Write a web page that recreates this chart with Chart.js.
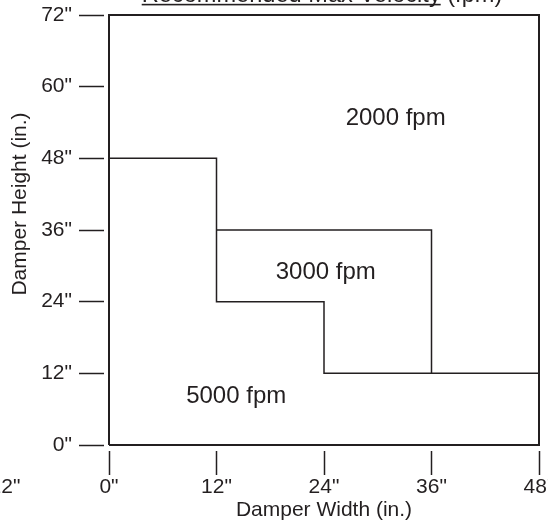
<!DOCTYPE html>
<html><head><meta charset="utf-8">
<script src="https://cdn.jsdelivr.net/npm/chart.js@4"></script>
<style>html,body{margin:0;padding:0;background:#fff}#wrap{width:548px;height:523px}</style>
</head><body><div id="wrap"><canvas id="c"></canvas></div>
<script>
const titleMain = 'Recommended Max Velocity';
const titleUnit = ' (fpm)';
const xAxisTitle = 'Damper Width (in.)';
const yAxisTitle = 'Damper Height (in.)';
const xTickValues = [-12, 0, 12, 24, 36, 48];
const yTickValues = [0, 12, 24, 36, 48, 60, 72];
const boxX = [0, 48, 48, 0, 0];
const boxY = [0, 0, 72, 72, 0];
const line5000X = [0, 12, 12, 24, 24, 48];
const line5000Y = [48, 48, 24, 24, 12, 12];
const line3000X = [12, 36, 36];
const line3000Y = [36, 36, 12];
const regionLabels = ['2000 fpm', '3000 fpm', '5000 fpm'];
const regionX = [32, 24.2, 14.2];
const regionY = [55, 29.3, 8.4];

const pts = (xs, ys) => xs.map((x, i) => ({x: x, y: ys[i]}));
const INK = '#231f20';
const FONT = "'Liberation Sans', Arial, sans-serif";

const overlay = {
  id: 'overlay',
  afterDraw(chart) {
    const ctx = chart.ctx, xs = chart.scales.x, ys = chart.scales.y;
    ctx.save();
    ctx.fillStyle = INK;
    const rs = 24;
    ctx.font = rs + 'px ' + FONT;
    ctx.textAlign = 'center';
    ctx.textBaseline = 'alphabetic';
    regionLabels.forEach((t, i) => {
      ctx.fillText(t, xs.getPixelForValue(regionX[i]), ys.getPixelForValue(regionY[i]) + rs * 0.36);
    });
    ctx.save();
    ctx.translate(20, 204);
    ctx.rotate(-Math.PI / 2);
    ctx.font = '21px ' + FONT;
    ctx.textBaseline = 'middle';
    ctx.fillText(yAxisTitle, 0, 0);
    ctx.restore();
    ctx.font = '23.6px ' + FONT;
    const w1 = ctx.measureText(titleMain).width;
    const w2 = ctx.measureText(titleUnit).width;
    const x0 = 322 - (w1 + w2) / 2;
    ctx.textAlign = 'left';
    ctx.textBaseline = 'alphabetic';
    ctx.fillText(titleMain, x0, 2);
    ctx.fillText(titleUnit, x0 + w1, 2);
    ctx.fillRect(x0, 3.8, w1, 1.6);
    ctx.restore();
  }
};

const lineDs = (data, w) => ({
  data: data, showLine: true, borderColor: INK, borderWidth: w,
  pointRadius: 0, clip: false, tension: 0, fill: false
});

new Chart(document.getElementById('c'), {
  type: 'scatter',
  data: {
    datasets: [
      lineDs(pts(boxX, boxY), 2),
      lineDs(pts(line5000X, line5000Y), 1.5),
      lineDs(pts(line3000X, line3000Y), 1.5)
    ]
  },
  options: {
    responsive: true,
    maintainAspectRatio: false,
    animation: false,
    events: [],
    layout: {padding: {top: 15, right: 9, left: 0, bottom: 0}},
    plugins: {legend: {display: false}, tooltip: {enabled: false}, title: {display: false}},
    scales: {
      x: {
        type: 'linear', position: 'bottom', min: 0, max: 48,
        afterBuildTicks: s => { s.ticks = xTickValues.map(v => ({value: v})); },
        afterFit: s => { s.height = 78; s.paddingLeft = 0; s.paddingRight = 0; },
        ticks: {
          autoSkip: false, maxRotation: 0, minRotation: 0, padding: 0, color: INK,
          font: {family: FONT, size: 21},
          callback: v => v + '"'
        },
        grid: {
          drawOnChartArea: false, tickLength: 30, tickWidth: 1.5,
          tickColor: c => (c.tick && c.tick.value < 0) ? 'rgba(0,0,0,0)' : INK,
          tickBorderDash: [24, 6], tickBorderDashOffset: 24
        },
        border: {display: false},
        title: {display: true, text: xAxisTitle, color: INK, font: {family: FONT, size: 21}, padding: {top: 0, bottom: 0}}
      },
      y: {
        type: 'linear', position: 'left', min: 0, max: 72,
        afterBuildTicks: s => { s.ticks = yTickValues.map(v => ({value: v})); },
        afterFit: s => { s.width = 109; s.paddingTop = 0; s.paddingBottom = 0; },
        ticks: {
          autoSkip: false, padding: 7, color: INK,
          font: {family: FONT, size: 21},
          callback: v => v + '"'
        },
        grid: {
          drawOnChartArea: false, tickLength: 30, tickWidth: 1.5, tickColor: INK,
          tickBorderDash: [25, 5], tickBorderDashOffset: 0
        },
        border: {display: false}
      }
    }
  },
  plugins: [overlay]
});
</script>
</body></html>
